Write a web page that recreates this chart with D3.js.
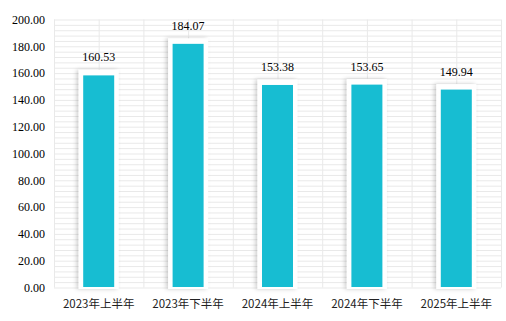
<!DOCTYPE html>
<html>
<head>
<meta charset="utf-8">
<script src="https://cdn.jsdelivr.net/npm/d3@7"></script>
<style>
  body { margin: 0; background: #fff; }
  .grid line { stroke: #e9e9e9; stroke-width: 1; }
  .grid path { display: none; }
</style>
</head>
<body>
<script>
// 数据
var categories = ["2023年上半年", "2023年下半年", "2024年上半年", "2024年下半年", "2025年上半年"];
var values = [160.53, 184.07, 153.38, 153.65, 149.94];
var yTicks = [0, 20, 40, 60, 80, 100, 120, 140, 160, 180, 200];

var margin = {top: 19.5, right: 5, bottom: 33.5, left: 54},
  width = 506 - margin.left - margin.right,
  height = 321 - margin.top - margin.bottom;

var svg = d3.select("body").append("svg")
  .attr("width", 506)
  .attr("height", 321);

// 阴影，偏左
var defs = svg.append("defs");
defs.append("filter")
  .attr("id", "shadow")
  .attr("x", "-30%").attr("y", "-10%")
  .attr("width", "160%").attr("height", "120%")
  .append("feDropShadow")
  .attr("dx", -2).attr("dy", 0)
  .attr("stdDeviation", 2)
  .attr("flood-color", "#000")
  .attr("flood-opacity", 0.2);

var g = svg.append("g")
  .attr("transform", "translate(" + margin.left + "," + margin.top + ")");

var x = d3.scaleBand()
  .domain(categories)
  .range([0, width]);

var y = d3.scaleLinear()
  .domain([0, 200])
  .range([height, 0]);

// 横向网格，每4个单位一条
g.append("g")
  .attr("class", "grid")
  .call(d3.axisLeft(y)
    .tickValues(d3.range(0, 201, 4))
    .tickSize(-width)
    .tickFormat(function(){return null;}));

// 纵向网格，10列
var xg = d3.scaleLinear().domain([0, 10]).range([0, width]);
g.append("g")
  .attr("class", "grid")
  .attr("transform", "translate(0," + height + ")")
  .call(d3.axisBottom(xg)
    .ticks(10)
    .tickSize(-height)
    .tickFormat(function(){return null;}));

// y轴文字
g.append("g")
  .selectAll("text")
  .data(yTicks)
  .enter().append("text")
  .attr("x", -9)
  .attr("y", function(d) { return y(d); })
  .attr("dy", "0.35em")
  .attr("text-anchor", "end")
  .attr("font-family", "'Liberation Serif', 'Times New Roman', serif")
  .attr("font-size", 12)
  .attr("fill", "#000")
  .text(function(d) { return d3.format(".2f")(d); });

// 白色底板
var panelW = 40, barW = 31;
g.append("g")
  .selectAll("rect")
  .data(values)
  .enter().append("rect")
  .attr("x", function(d, i) { return x(categories[i]) + x.bandwidth() / 2 - panelW / 2; })
  .attr("y", function(d) { return y(d) - 2.5; })
  .attr("width", panelW)
  .attr("height", function(d) { return height - y(d) + 4; })
  .attr("fill", "#fff")
  .attr("filter", "url(#shadow)");

// 柱子
g.append("g")
  .selectAll("rect")
  .data(values)
  .enter().append("rect")
  .attr("x", function(d, i) { return x(categories[i]) + x.bandwidth() / 2 - barW / 2; })
  .attr("y", function(d) { return y(d) + 3; })
  .attr("width", barW)
  .attr("height", function(d) { return height - y(d) - 3.5; })
  .attr("fill", "#17bdd2");

// 数值标签
g.append("g")
  .selectAll("text")
  .data(values)
  .enter().append("text")
  .attr("x", function(d, i) { return x(categories[i]) + x.bandwidth() / 2; })
  .attr("y", function(d) { return y(d) - 11; })
  .attr("text-anchor", "middle")
  .attr("font-family", "'Liberation Serif', 'Times New Roman', serif")
  .attr("font-size", 12)
  .attr("fill", "#000")
  .text(function(d) { return d3.format(".2f")(d); });

// 类别标签
g.append("g")
  .selectAll("text")
  .data(categories)
  .enter().append("text")
  .attr("x", function(d) { return x(d) + x.bandwidth() / 2; })
  .attr("y", height + 16)
  .attr("dy", "0.35em")
  .attr("text-anchor", "middle")
  .attr("font-family", "'Noto Sans CJK SC', sans-serif")
  .attr("font-size", 11.5)
  .attr("fill", "#222")
  .text(function(d) { return d; });
</script>
</body>
</html>
